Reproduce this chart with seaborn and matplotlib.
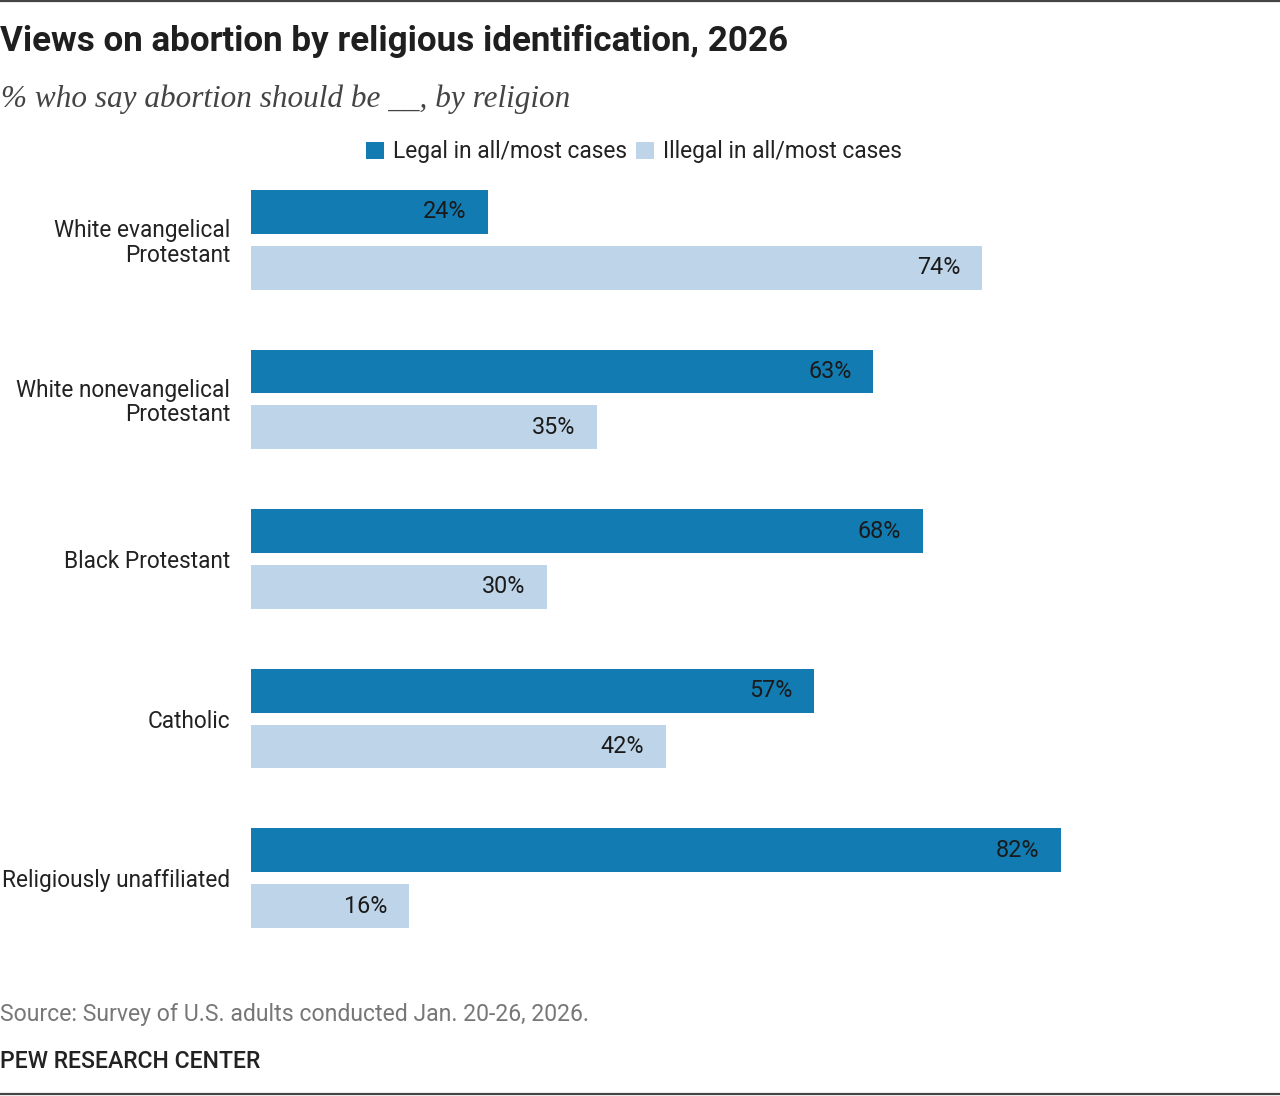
import matplotlib
matplotlib.use("Agg")
import matplotlib.pyplot as plt
import seaborn as sns
import pandas as pd
from matplotlib.patches import Patch
from matplotlib.lines import Line2D

categories = ["White evangelical\nProtestant", "White nonevangelical\nProtestant",
              "Black Protestant", "Catholic", "Religiously unaffiliated"]
series = ["Legal in all/most cases", "Illegal in all/most cases"]
legal = [24, 63, 68, 57, 82]
illegal = [74, 35, 30, 42, 16]
colors = ["#117BB2", "#BED5E9"]

title = "Views on abortion by religious identification, 2026"
subtitle = "% who say abortion should be __, by religion"
source = "Source: Survey of U.S. adults conducted Jan. 20-26, 2026."
credit = "PEW RESEARCH CENTER"

df = pd.DataFrame({
    "category": categories * 2,
    "series": [series[0]] * len(categories) + [series[1]] * len(categories),
    "value": legal + illegal,
})

sns.set_theme(style="white")
plt.rcParams["font.family"] = ["Roboto", "DejaVu Sans"]

W, H = 1280, 1096
fig = plt.figure(figsize=(W / 100, H / 100), dpi=100)
ax_left, ax_right = 251, 1239
ax_top, ax_bot = 170, 950
ax = fig.add_axes([ax_left / W, 1 - ax_bot / H, (ax_right - ax_left) / W, (ax_bot - ax_top) / H])

sns.barplot(data=df, y="category", x="value", hue="series", hue_order=series,
            palette=colors, orient="h", width=0.7, gap=0.214, ax=ax,
            legend=False, saturation=1, linewidth=0)

ax.set_xlim(0, 100)
ax.set_ylim(4.45, -0.4375)
for s in ax.spines.values():
    s.set_visible(False)
ax.set_xticks([])
ax.set_xlabel("")
ax.set_ylabel("")
ax.tick_params(axis="y", length=0, pad=15, labelsize=16.3, labelcolor="#222222")
for lbl in ax.get_yticklabels():
    lbl.set_horizontalalignment("right")
    lbl.set_multialignment("right")
    lbl.set_linespacing(1.08)

for container in ax.containers:
    for bar in container:
        w = bar.get_width()
        yc = bar.get_y() + bar.get_height() / 2
        ax.annotate(f"{w:.0f}%", xy=(w, yc), xytext=(-22, 0), textcoords="offset pixels",
                    ha="right", va="center", fontsize=16.8, color="#1a1a1a")

# legend
handles = [Patch(facecolor=c, edgecolor="none") for c in colors]
fig.legend(handles, series, loc="center", bbox_to_anchor=(634 / W, 1 - 152 / H),
           ncol=2, frameon=False, fontsize=16.4, handlelength=0.78, handleheight=0.78,
           handletextpad=0.4, columnspacing=0.4, labelcolor="#222222")

fig.text(0 / W, 1 - 41 / H, title, fontsize=25.2, fontweight="bold", color="#1f1f1f",
         va="center", ha="left")
fig.text(1 / W, 1 - 99 / H, subtitle, fontsize=22.5, style="italic", color="#444444",
         va="center", ha="left", family=["Liberation Serif", "DejaVu Serif"])
fig.text(0 / W, 1 - 1014 / H, source, fontsize=16.6, color="#777777", va="center", ha="left")
fig.text(0 / W, 1 - 1062 / H, credit, fontsize=16.6, fontweight="medium", color="#222222",
         va="center", ha="left")

fig.add_artist(Line2D([0, 1], [1 - 1 / H, 1 - 1 / H], transform=fig.transFigure,
                      color="#444444", linewidth=1.6))
fig.add_artist(Line2D([0, 1], [1 - 1094 / H, 1 - 1094 / H], transform=fig.transFigure,
                      color="#444444", linewidth=1.6))

fig.savefig("out.png", dpi=100, facecolor="white")
